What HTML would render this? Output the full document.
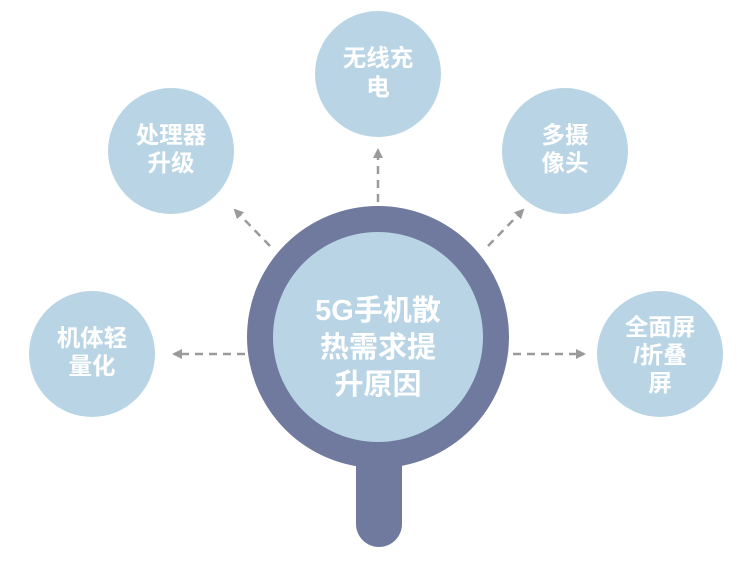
<!DOCTYPE html>
<html><head><meta charset="utf-8"><style>
html,body{margin:0;padding:0;background:#fff;width:750px;height:568px;overflow:hidden}
svg text{font-family:"Liberation Sans","Noto Sans CJK SC",sans-serif;font-weight:bold;fill:#fff;text-anchor:middle;dominant-baseline:central}
</style></head><body>
<svg width="750" height="568" viewBox="0 0 750 568">
<defs><marker id="a" markerWidth="10" markerHeight="10" refX="8" refY="5" orient="auto" markerUnits="userSpaceOnUse"><path d="M0,0 L10,5 L0,10 z" fill="#9a9a9a"/></marker></defs>
<g stroke="#9a9a9a" stroke-width="2.5" stroke-dasharray="8,6" fill="none" marker-end="url(#a)">
<line x1="378" y1="202" x2="378" y2="150"/>
<line x1="270" y1="246" x2="235" y2="210"/>
<line x1="488" y1="246" x2="523" y2="210"/>
<line x1="245" y1="354" x2="174" y2="354"/>
<line x1="513" y1="354" x2="584" y2="354"/>
</g>
<g fill="#b9d5e5">
<circle cx="378" cy="74" r="63"/>
<circle cx="171" cy="151" r="63"/>
<circle cx="565" cy="151" r="63"/>
<circle cx="92" cy="354" r="63"/>
<circle cx="660" cy="354" r="63"/>
</g>
<rect x="356" y="420" width="46" height="127" rx="23" fill="#6f7a9e"/>
<circle cx="378" cy="337" r="131" fill="#6f7a9e"/>
<circle cx="378" cy="337" r="105" fill="#b9d5e5"/>
<g font-size="23.5">
<text x="378" y="58">无线充</text><text x="378" y="87">电</text>
<text x="171" y="135">处理器</text><text x="171" y="163">升级</text>
<text x="565" y="135">多摄</text><text x="565" y="163">像头</text>
<text x="92" y="338">机体轻</text><text x="92" y="366">量化</text>
<text x="660" y="327">全面屏</text><text x="660" y="355">/折叠</text><text x="660" y="383">屏</text>
</g>
<g font-size="29">
<text x="378" y="311">5G手机散</text>
<text x="378" y="348">热需求提</text>
<text x="378" y="385">升原因</text>
</g>
</svg>
</body></html>
